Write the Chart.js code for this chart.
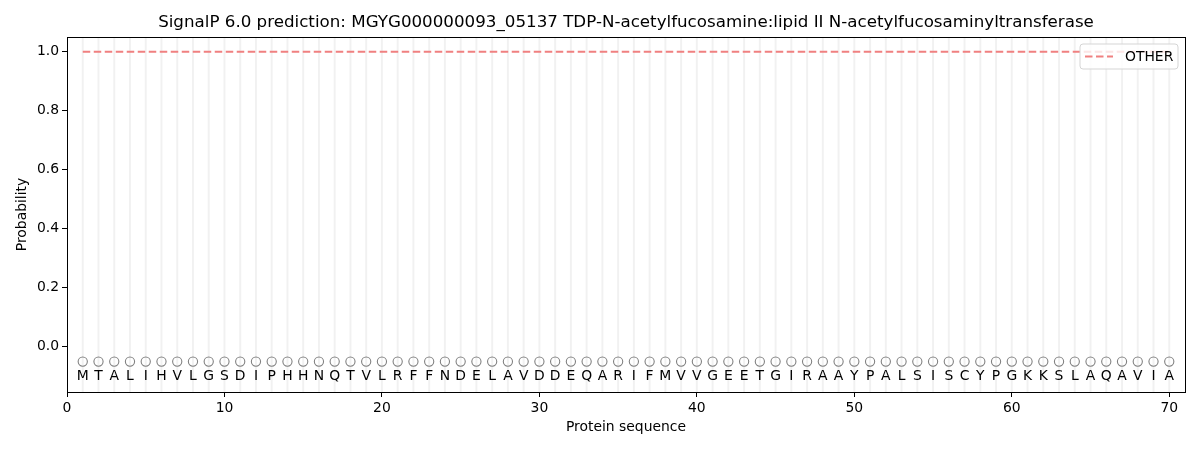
<!DOCTYPE html>
<html>
<head>
<meta charset="utf-8">
<script src="https://cdn.jsdelivr.net/npm/chart.js@4/dist/chart.umd.min.js"></script>
<style>
html,body{margin:0;padding:0;background:#fff;}
#wrap{width:1200px;height:450px;}
</style>
</head>
<body>
<div id="wrap"><canvas id="c" width="1200" height="450"></canvas></div>
<script>
const titleText = "SignalP 6.0 prediction: MGYG000000093_05137 TDP-N-acetylfucosamine:lipid II N-acetylfucosaminyltransferase";
const residues = ["M","T","A","L","I","H","V","L","G","S","D","I","P","H","H","N","Q","T","V","L","R","F","F","N","D","E","L","A","V","D","D","E","Q","A","R","I","F","M","V","V","G","E","E","T","G","I","R","A","A","Y","P","A","L","S","I","S","C","Y","P","G","K","K","S","L","A","Q","A","V","I","A"];
const positions = [1,2,3,4,5,6,7,8,9,10,11,12,13,14,15,16,17,18,19,20,21,22,23,24,25,26,27,28,29,30,31,32,33,34,35,36,37,38,39,40,41,42,43,44,45,46,47,48,49,50,51,52,53,54,55,56,57,58,59,60,61,62,63,64,65,66,67,68,69,70];
const otherProb = [1,1,1,1,1,1,1,1,1,1,1,1,1,1,1,1,1,1,1,1,1,1,1,1,1,1,1,1,1,1,1,1,1,1,1,1,1,1,1,1,1,1,1,1,1,1,1,1,1,1,1,1,1,1,1,1,1,1,1,1,1,1,1,1,1,1,1,1,1,1];
const markerLevel = -0.05;
const letterLevel = -0.1;
const xTickLabels = [0,10,20,30,40,50,60,70];
const yTickLabels = [0.0,0.2,0.4,0.6,0.8,1.0];
const seriesLabel = "OTHER";
const FONT = "'DejaVu Sans', sans-serif";

const overlay = {
  id: 'overlay',
  beforeDatasetsDraw(chart) {
    const {ctx, chartArea: a, scales: {x}} = chart;
    ctx.save();
    ctx.strokeStyle = 'rgba(0,0,0,0.055)';
    ctx.lineWidth = 2;
    positions.forEach(p => {
      const px = x.getPixelForValue(p);
      ctx.beginPath(); ctx.moveTo(px, a.top); ctx.lineTo(px, a.bottom); ctx.stroke();
    });
    ctx.restore();
  },
  afterDatasetsDraw(chart) {
    const {ctx, chartArea: a, scales: {x, y}} = chart;
    ctx.save();
    // title centred over the axes
    ctx.fillStyle = '#000';
    ctx.font = "16.7px " + FONT;
    ctx.textAlign = 'center';
    ctx.textBaseline = 'middle';
    ctx.fillText(titleText, (a.left + a.right) / 2, 23);
    // residue letters
    ctx.font = "13.9px " + FONT;
    const py = y.getPixelForValue(letterLevel);
    residues.forEach((r, i) => ctx.fillText(r, x.getPixelForValue(positions[i]), py));
    // axes box
    ctx.strokeStyle = '#000';
    ctx.lineWidth = 1;
    ctx.strokeRect(Math.round(a.left)+0.5, Math.round(a.top)+0.5, Math.round(a.right-a.left), Math.round(a.bottom-a.top));
    // legend
    const lx = 1080, ly = 44, lw = 98, lh = 25, rr = 3;
    ctx.fillStyle = 'rgba(255,255,255,0.8)';
    ctx.strokeStyle = '#d5d5d5';
    ctx.beginPath();
    ctx.moveTo(lx+rr, ly); ctx.lineTo(lx+lw-rr, ly); ctx.quadraticCurveTo(lx+lw, ly, lx+lw, ly+rr);
    ctx.lineTo(lx+lw, ly+lh-rr); ctx.quadraticCurveTo(lx+lw, ly+lh, lx+lw-rr, ly+lh);
    ctx.lineTo(lx+rr, ly+lh); ctx.quadraticCurveTo(lx, ly+lh, lx, ly+lh-rr);
    ctx.lineTo(lx, ly+rr); ctx.quadraticCurveTo(lx, ly, lx+rr, ly);
    ctx.closePath(); ctx.fill(); ctx.stroke();
    const ds = chart.data.datasets[0];
    ctx.strokeStyle = ds.borderColor;
    ctx.lineWidth = ds.borderWidth;
    ctx.setLineDash(ds.borderDash);
    ctx.beginPath(); ctx.moveTo(lx+5, ly+12.5); ctx.lineTo(lx+33, ly+12.5); ctx.stroke();
    ctx.setLineDash([]);
    ctx.fillStyle = '#000';
    ctx.textAlign = 'left';
    ctx.fillText(ds.label, lx+45, ly+13);
    ctx.restore();
  }
};

new Chart(document.getElementById('c'), {
  type: 'line',
  data: {
    datasets: [
      {
        label: seriesLabel,
        data: positions.map((p, i) => ({x: p, y: otherProb[i]})),
        borderColor: '#f08080',
        borderWidth: 2,
        borderDash: [7.5, 3.5],
        pointRadius: 0,
        fill: false
      },
      {
        type: 'scatter',
        label: 'markers',
        data: positions.map(p => ({x: p, y: markerLevel})),
        borderColor: '#808080',
        backgroundColor: 'rgba(0,0,0,0)',
        borderWidth: 1.1,
        pointRadius: 4.6,
        showLine: false
      }
    ]
  },
  plugins: [overlay],
  options: {
    responsive: false,
    animation: false,
    layout: {padding: {left: 0, right: 15, top: 37, bottom: 0}},
    plugins: {
      legend: {display: false},
      tooltip: {enabled: false},
      title: {display: false}
    },
    scales: {
      x: {
        type: 'linear',
        min: 0, max: 71,
        afterFit(s) { s.height = 58; },
        afterBuildTicks(s) { s.ticks = xTickLabels.map(v => ({value: v})); },
        grid: {drawOnChartArea: false, drawTicks: true, tickLength: 5, tickColor: '#000'},
        border: {display: true, color: '#000'},
        ticks: {color: '#000', font: {family: FONT, size: 13.9}, padding: 3, maxRotation: 0, autoSkip: false,
                callback: v => String(v)},
        title: {display: true, text: 'Protein sequence', color: '#000', font: {family: FONT, size: 13.9}, padding: {top: 4, bottom: 14}}
      },
      y: {
        type: 'linear',
        min: -0.153, max: 1.05,
        afterFit(s) { s.width = 67; },
        afterBuildTicks(s) { s.ticks = yTickLabels.map(v => ({value: v})); },
        grid: {drawOnChartArea: false, drawTicks: true, tickLength: 5, tickColor: '#000'},
        border: {display: true, color: '#000'},
        ticks: {color: '#000', font: {family: FONT, size: 13.9}, padding: 3, callback: v => Number(v).toFixed(1)},
        title: {display: true, text: 'Probability', color: '#000', font: {family: FONT, size: 13.9}, padding: {top: 14, bottom: 0}}
      }
    }
  }
});
</script>
</body>
</html>
